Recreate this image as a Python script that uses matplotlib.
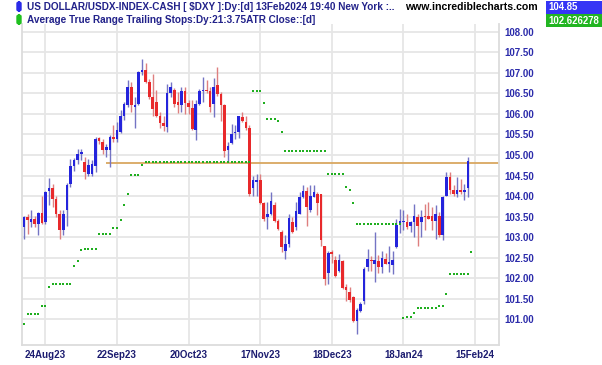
import numpy as np
import pandas as pd
import matplotlib
matplotlib.use("Agg")
import matplotlib.pyplot as plt
from matplotlib.patches import Rectangle, FancyBboxPatch

# ---------------- data ----------------
holidays = ["2023-09-04", "2023-11-23", "2023-12-25", "2024-01-01", "2024-01-15"]
axis_dates = [d for d in pd.bdate_range("2023-08-16", "2024-02-15") if d.strftime("%Y-%m-%d") not in holidays]

opens = [103.24, 103.48, 103.36, 103.43, 103.32, 103.58, 103.36, 104.12, 104.20, 103.93,
         103.57, 103.16, 103.65, 104.30, 104.74, 104.87, 105.02, 104.84, 104.54, 104.54,
         104.74, 105.42, 105.31, 105.11, 105.13, 105.45, 105.40, 105.56, 105.96, 106.21,
         106.67, 106.17, 106.25, 107.02, 107.08, 106.78, 106.41, 106.29, 105.96, 105.78,
         105.68, 106.51, 106.59, 106.29, 106.23, 106.55, 106.27, 106.15, 105.62, 106.25,
         106.56, 106.59, 106.57, 106.25, 106.70, 106.49, 106.21, 105.11, 105.29, 105.53,
         105.56, 105.92, 105.80, 105.66, 104.20, 104.34, 104.38, 103.83, 103.48, 103.55,
         103.79, 103.40, 103.12, 102.67, 102.82, 103.36, 103.24, 103.57, 103.97, 104.13,
         103.65, 103.97, 104.05, 104.04, 102.78, 102.12, 102.63, 102.44, 102.18, 102.41,
         101.78, 101.66, 101.53, 100.95, 101.19, 101.44, 102.27, 102.45, 102.35, 102.41,
         102.27, 102.47, 102.35, 102.31, 102.75, 103.32, 103.36, 103.36, 103.28, 103.36,
         103.50, 103.36, 103.52, 103.52, 103.52, 103.40, 103.52, 103.04, 104.01, 104.46,
         104.15, 104.05, 104.15, 104.10, 104.20]
highs = [103.51, 103.57, 103.66, 103.51, 103.61, 103.99, 104.12, 104.44, 104.30, 104.00,
         103.65, 103.65, 104.31, 104.91, 104.93, 105.15, 105.15, 104.95, 104.91, 104.87,
         105.44, 105.45, 105.39, 105.27, 105.48, 105.74, 105.80, 106.10, 106.29, 106.83,
         106.78, 106.41, 107.05, 107.35, 107.24, 106.86, 106.98, 106.59, 106.05, 105.96,
         106.74, 106.78, 106.63, 106.53, 106.66, 106.66, 106.35, 106.33, 106.33, 106.62,
         106.90, 106.82, 106.67, 106.88, 107.14, 106.53, 106.25, 105.31, 105.76, 105.74,
         105.96, 106.05, 105.96, 105.72, 104.50, 104.54, 104.53, 103.85, 103.85, 104.09,
         103.85, 103.44, 103.16, 103.04, 103.57, 103.48, 103.85, 104.09, 104.26, 104.22,
         104.26, 104.26, 104.09, 104.05, 102.79, 102.65, 102.69, 102.53, 102.59, 102.44,
         101.86, 101.78, 101.57, 101.27, 101.41, 102.27, 102.71, 102.53, 103.12, 102.55,
         102.67, 102.61, 102.77, 102.67, 103.44, 103.69, 103.66, 103.57, 103.40, 103.81,
         103.55, 103.66, 103.81, 103.85, 103.73, 103.77, 103.61, 104.01, 104.58, 104.58,
         104.26, 104.46, 104.42, 104.30, 104.96]
lows = [102.96, 103.08, 103.24, 103.24, 103.04, 103.32, 103.32, 103.77, 103.73, 103.48,
        102.96, 103.04, 103.28, 104.22, 104.62, 104.79, 104.87, 104.42, 104.48, 104.50,
        104.58, 105.27, 105.03, 104.95, 104.70, 105.31, 105.31, 105.53, 105.86, 106.18,
        106.05, 105.66, 106.21, 106.94, 106.75, 106.37, 105.96, 105.92, 105.66, 105.58,
        105.56, 106.41, 106.18, 106.02, 106.05, 106.00, 106.00, 105.60, 105.37, 106.21,
        106.29, 106.51, 106.05, 105.92, 106.45, 105.84, 104.95, 104.83, 105.27, 105.40,
        105.42, 105.80, 105.60, 103.99, 103.99, 104.01, 103.81, 103.40, 103.20, 103.53,
        103.36, 103.16, 102.63, 102.47, 102.75, 103.09, 103.16, 103.55, 103.96, 103.28,
        103.61, 103.97, 103.53, 102.79, 101.82, 101.86, 102.36, 102.02, 102.14, 101.74,
        101.45, 101.41, 100.92, 100.64, 101.17, 101.37, 102.18, 102.18, 101.90, 102.12,
        102.12, 102.33, 102.14, 102.09, 102.74, 103.09, 103.16, 103.20, 103.12, 103.00,
        102.79, 103.00, 103.16, 103.44, 103.16, 102.96, 103.01, 102.92, 103.99, 104.05,
        103.99, 103.97, 104.05, 103.91, 103.97]
closes = [103.48, 103.42, 103.44, 103.32, 103.58, 103.35, 104.09, 104.20, 103.93, 103.57,
          103.16, 103.57, 104.26, 104.74, 104.87, 105.03, 105.07, 104.58, 104.75, 104.78,
          105.40, 105.34, 105.11, 105.19, 105.45, 105.40, 105.60, 105.96, 106.25, 106.67,
          106.21, 106.21, 107.02, 107.08, 106.78, 106.41, 106.13, 105.96, 105.78, 105.70,
          106.51, 106.67, 106.25, 106.21, 106.55, 106.27, 106.18, 105.64, 106.25, 106.56,
          106.59, 106.57, 106.17, 106.66, 106.49, 106.21, 105.09, 105.23, 105.52, 105.56,
          105.94, 105.83, 105.66, 104.05, 104.38, 104.38, 103.83, 103.44, 103.56, 103.87,
          103.40, 103.20, 102.75, 102.82, 103.47, 103.12, 103.63, 103.97, 104.13, 103.73,
          104.01, 104.09, 103.83, 102.92, 101.98, 102.61, 102.59, 102.06, 102.43, 101.76,
          101.70, 101.47, 100.95, 101.22, 101.37, 102.22, 102.47, 102.41, 102.43, 102.28,
          102.49, 102.35, 102.39, 102.44, 103.30, 103.39, 103.39, 103.24, 103.36, 103.52,
          103.26, 103.50, 103.48, 103.44, 103.40, 103.55, 103.04, 103.97, 104.46, 104.14,
          104.04, 104.15, 104.10, 104.14, 104.85]
stops = [100.87, 101.13, 101.13, 101.13, 101.13, 101.31, 101.31, 101.79, 101.86, 101.86,
         101.86, 101.86, 101.86, 101.86, 102.29, 102.42, 102.68, 102.71, 102.71, 102.71,
         102.71, 103.08, 103.08, 103.08, 103.08, 103.23, 103.23, 103.41, 103.78, 104.06,
         104.52, 104.52, 104.52, 104.75, 104.83, 104.83, 104.83, 104.83, 104.83, 104.83,
         104.83, 104.83, 104.83, 104.83, 104.83, 104.83, 104.83, 104.83, 104.83, 104.83,
         104.83, 104.83, 104.83, 104.83, 104.83, 104.83, 104.83, 104.83, 104.83, 104.83,
         104.83, 104.83, 104.83, 104.83, 106.55, 106.55, 106.55, 106.28, 105.89, 105.89,
         105.89, 105.83, 105.57, 105.10, 105.10, 105.10, 105.10, 105.10, 105.10, 105.10,
         105.10, 105.10, 105.10, 105.10, 105.10, 104.54, 104.54, 104.54, 104.54, 104.54,
         104.23, 104.14, 103.83, 103.32, 103.32, 103.32, 103.32, 103.32, 103.32, 103.32,
         103.32, 103.32, 103.32, 103.32, 103.32, 103.32, 101.03, 101.06, 101.06, 101.14,
         101.28, 101.28, 101.28, 101.28, 101.28, 101.28, 101.32, 101.32, 101.62, 102.10,
         102.10, 102.10, 102.10, 102.10, 102.10, 102.63]
hline_level = 104.81
hline_start = "2023-09-19"
tick_dates = ["2023-08-24", "2023-09-22", "2023-10-20", "2023-11-17", "2023-12-18", "2024-01-18", "2024-02-15"]
tick_labels = ["24Aug23", "22Sep23", "20Oct23", "17Nov23", "18Dec23", "18Jan24", "15Feb24"]
last_close_label = "104.85"
stop_label = "102.626278"

# ---------------- plot ----------------
FONT = "Liberation Sans"
W, H = 602, 365
fig = plt.figure(figsize=(W / 100, H / 100), dpi=100)
fig.patch.set_facecolor("white")
ax = fig.add_axes([22 / W, (H - 345) / H, (499 - 22) / W, (345 - 24) / H])

date_str = [d.strftime("%Y-%m-%d") for d in axis_dates]
idx = {s: i for i, s in enumerate(date_str)}

O = np.array(opens); Hh = np.array(highs); L = np.array(lows); C = np.array(closes)
x = np.arange(len(O))
up = C >= O
body_col = np.where(up, "#2424DC", "#E8292B")
wick_col = np.where(up, "#7474C4", "#DE7F7F")

ax.vlines(x, L, Hh, colors=wick_col, lw=1.0, zorder=3)
small = np.abs(C - O) < 0.03
heights = np.where(small, 0.03, C - O)
ax.bar(x, heights, bottom=np.where(small, (C + O) / 2 - 0.015, O),
       width=0.74, color=body_col, linewidth=0, zorder=4)

xs = np.arange(len(stops))
ax.plot(xs, stops, ls="none", marker="s", ms=1.7, mew=0, color="#1FAE1F", zorder=5)

ax.hlines(hline_level, idx[hline_start], 200, colors="#D9A760", lw=1.3, zorder=2)

ax.set_xlim(-0.54, 132.7)
ax.set_ylim(100.366, 108.195)

ax.set_xticks([idx[d] for d in tick_dates])
ax.set_xticklabels(tick_labels)
yt = np.arange(101.0, 108.01, 0.5)
ax.set_yticks(yt)
ax.set_yticklabels([f"{v:.2f}" for v in yt])
ax.yaxis.tick_right()
ax.tick_params(axis="both", length=0)
ax.tick_params(axis="y", pad=4, labelsize=7, labelcolor="#2B2BAA")
ax.tick_params(axis="x", pad=3.5, labelsize=7, labelcolor="#1C1C70")
for lab in ax.get_xticklabels() + ax.get_yticklabels():
    lab.set_fontfamily(FONT)
    lab.set_fontweight("bold")

ax.grid(True, color="#E6E6E6", lw=1.3, zorder=0)
ax.set_axisbelow(True)
for s in ax.spines.values():
    s.set_color("#DCDCDC")
    s.set_linewidth(1.3)
ax.spines["top"].set_visible(False)

# header
def fy(py):
    return 1 - py / H

fig.patches.append(FancyBboxPatch((17 / W, fy(11)), 4 / W, 9 / H, boxstyle="round,pad=0,rounding_size=0.004",
                                  transform=fig.transFigure, facecolor="#2B2BE8", edgecolor="#2B2BE8"))
fig.patches.append(FancyBboxPatch((17 / W, fy(24)), 4 / W, 9 / H, boxstyle="round,pad=0,rounding_size=0.004",
                                  transform=fig.transFigure, facecolor="#1FC01F", edgecolor="#1FC01F"))
fig.text(27 / W, fy(7), r"US DOLLAR/USDX-INDEX-CASH [ \$DXY ]:Dy:[d] 13Feb2024 19:40 New York :..",
         fontsize=7.2, fontweight="bold", color="#22228A", family=FONT, va="center", ha="left")
fig.text(27 / W, fy(20), "Average True Range Trailing Stops:Dy:21:3.75ATR Close::[d]",
         fontsize=7.2, fontweight="bold", color="#22228A", family=FONT, va="center", ha="left")
fig.text(405 / W, fy(7), "www.incrediblecharts.com", fontsize=7.6, fontweight="bold",
         color="black", family=FONT, va="center", ha="left")
fig.patches.append(Rectangle((546 / W, fy(13.5)), 56 / W, 13 / H, transform=fig.transFigure,
                             facecolor="#3535F5", edgecolor="none"))
fig.patches.append(Rectangle((546 / W, fy(27)), 56 / W, 13 / H, transform=fig.transFigure,
                             facecolor="#22B522", edgecolor="none"))
fig.text(548 / W, fy(7), last_close_label, fontsize=6.9, fontweight="bold", color="white",
         family=FONT, va="center", ha="left")
fig.text(548 / W, fy(20.5), stop_label, fontsize=6.9, fontweight="bold", color="white",
         family=FONT, va="center", ha="left")

fig.savefig("out.png", dpi=100, facecolor="white")
